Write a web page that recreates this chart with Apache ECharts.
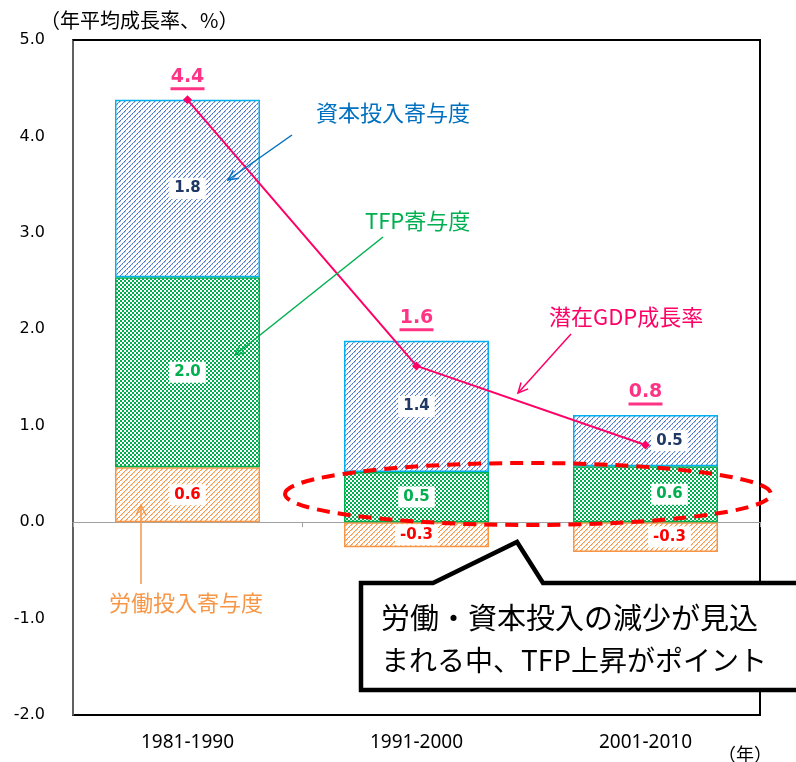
<!DOCTYPE html>
<html>
<head>
<meta charset="utf-8">
<script src="https://cdn.jsdelivr.net/npm/echarts@6/dist/echarts.min.js"></script>
<style>
  html, body { margin: 0; padding: 0; background: #fff; }
  #chart { width: 796px; height: 762px; }
</style>
</head>
<body>
<div id="chart"></div>
<script>
// Periods and growth contributions (annual average, %)
const categories = ['1981-1990', '1991-2000', '2001-2010'];
const labor = [0.57, -0.26, -0.31];     // 労働投入寄与度
const tfp = [1.97, 0.52, 0.58];         // TFP寄与度
const capital = [1.84, 1.36, 0.53];     // 資本投入寄与度
const potential = [4.38, 1.62, 0.80];   // 潜在GDP成長率
const yMin = -2, yMax = 5, yStep = 1;

const JP = '"Noto Sans CJK JP", "Noto Sans", sans-serif';
const NUM = '"DejaVu Sans", sans-serif';

// Plot frame in pixels
const GRID = { left: 73, right: 36, top: 40, bottom: 47 };
const W = 796, H = 762;

// Small repeating fill textures for the stacked segments
function makePattern(size, paint) {
  const c = document.createElement('canvas');
  c.width = c.height = size;
  const g = c.getContext('2d');
  g.fillStyle = '#ffffff';
  g.fillRect(0, 0, size, size);
  for (let y = 0; y < size; y++) {
    for (let x = 0; x < size; x++) {
      const col = paint(x, y);
      if (col) { g.fillStyle = col; g.fillRect(x, y, 1, 1); }
    }
  }
  return { image: c, repeat: 'repeat' };
}
const blueHatch = makePattern(5, (x, y) => {
  const d = (x + y) % 5;
  if (d === 0) return (x % 2 === 0) ? '#4472C4' : '#6f93d4';
  if (d === 1 && x % 2 === 0) return '#b3c7ec';
  return null;
});
const greenDots = makePattern(4, (x, y) => {
  if (((x >> 1) + (y >> 1)) % 2 === 0) return '#00B050';
  return null;
});
const orangeHatch = makePattern(5, (x, y) => {
  const d = (x + y) % 5;
  if (d === 0) return '#F79646';
  if (d === 1 && y % 2 === 0) return '#fbc8a0';
  return null;
});

// Segment labels: the last period is nudged right to clear the line marker
function segData(arr) {
  return arr.map((v, i) => ({ value: v, label: { offset: i === 2 ? [24, 0] : [0, 0] } }));
}
function segLabel(color) {
  return {
    show: true,
    position: 'inside',
    formatter: p => p.value.toFixed(1),
    color: color,
    fontFamily: NUM,
    fontWeight: 'bold',
    fontSize: 15,
    backgroundColor: '#ffffff',
    padding: [3, 5],
    lineHeight: 15
  };
}

// Top of each bar, where the total growth label sits
const barTops = categories.map((_, i) => capital[i] + tfp[i] + Math.max(labor[i], 0));

function arrow(x1, y1, x2, y2, color) {
  const ang = Math.atan2(y2 - y1, x2 - x1);
  const L = 11, a = 0.45;
  const p1 = [x2 - L * Math.cos(ang - a), y2 - L * Math.sin(ang - a)];
  const p2 = [x2 - L * Math.cos(ang + a), y2 - L * Math.sin(ang + a)];
  return [
    { type: 'line', z: 20, shape: { x1, y1, x2, y2 }, style: { stroke: color, lineWidth: 1.5 } },
    { type: 'polyline', z: 20, shape: { points: [p1, [x2, y2], p2] }, style: { stroke: color, lineWidth: 1.5, fill: null } }
  ];
}
function note(text, x, y, color, size) {
  return {
    type: 'text', z: 20, x, y,
    style: { text, fill: color, font: `${size}px ${JP}`, textVerticalAlign: 'middle' }
  };
}

const chart = echarts.init(document.getElementById('chart'), null, { renderer: 'canvas' });

const option = {
  animation: false,
  backgroundColor: '#ffffff',
  grid: {
    left: GRID.left, right: GRID.right, top: GRID.top, bottom: GRID.bottom,
    show: true, borderColor: '#000000', borderWidth: 2
  },
  xAxis: [
    {
      type: 'category',
      data: categories,
      position: 'bottom',
      axisLine: { show: false, onZero: false },
      axisTick: { show: false },
      axisLabel: { color: '#000', fontFamily: '"Noto Sans", sans-serif', fontSize: 19, margin: 18 }
    },
    {
      type: 'category',
      data: categories,
      position: 'bottom',
      axisLine: { show: true, onZero: true, lineStyle: { color: '#a0a0a0', width: 1 } },
      axisTick: { show: true, length: 5, lineStyle: { color: '#a0a0a0' } },
      axisLabel: { show: false }
    }
  ],
  yAxis: {
    type: 'value',
    min: yMin, max: yMax, interval: yStep,
    axisLine: { show: true, onZero: false, lineStyle: { color: '#808080', width: 1.5 } },
    axisTick: { show: false },
    splitLine: { show: false },
    axisLabel: {
      formatter: v => v.toFixed(1),
      color: '#000', fontFamily: NUM, fontSize: 16, margin: 28
    }
  },
  series: [
    {
      name: '労働投入寄与度', type: 'bar', stack: 'growth', barWidth: 145,
      data: segData(labor),
      itemStyle: { color: orangeHatch, borderColor: '#F79646', borderWidth: 1.5 },
      label: segLabel('#FF0000'), z: 2
    },
    {
      name: 'TFP寄与度', type: 'bar', stack: 'growth', barWidth: 145,
      data: segData(tfp),
      itemStyle: { color: greenDots, borderColor: '#00B050', borderWidth: 1.5 },
      label: segLabel('#00B050'), z: 2
    },
    {
      name: '資本投入寄与度', type: 'bar', stack: 'growth', barWidth: 145,
      data: segData(capital),
      itemStyle: { color: blueHatch, borderColor: '#00B0F0', borderWidth: 1.5 },
      label: segLabel('#1F3864'), z: 2
    },
    {
      name: '潜在GDP成長率', type: 'line',
      data: potential,
      symbol: 'diamond', symbolSize: 9,
      itemStyle: { color: '#FF0066' },
      lineStyle: { color: '#FF0066', width: 2 },
      z: 5
    },
    {
      name: '潜在GDP成長率ラベル', type: 'scatter',
      data: barTops,
      symbolSize: 0,
      silent: true,
      z: 6,
      label: {
        show: true,
        position: 'top',
        distance: 9,
        formatter: p => '{t|' + potential[p.dataIndex].toFixed(1) + '}\n{u| }',
        rich: {
          t: { color: '#FF0066', fontFamily: NUM, fontWeight: 'bold', fontSize: 19, lineHeight: 20, align: 'center' },
          u: { backgroundColor: '#FF0066', width: 34, height: 3, lineHeight: 4, fontSize: 1, align: 'center' }
        }
      }
    }
  ],
  graphic: [
    // top edge of the plot frame
    {
      type: 'line', z: 100,
      shape: { x1: GRID.left, y1: GRID.top, x2: W - GRID.right, y2: GRID.top },
      style: { stroke: '#000000', lineWidth: 2 }
    },

    // axis captions
    { type: 'text', x: 40, y: 20, style: { text: '（年平均成長率、%）', fill: '#000', font: `20px ${JP}`, textVerticalAlign: 'middle' } },
    { type: 'text', x: 718, y: 754, style: { text: '（年）', fill: '#000', font: `18px ${JP}`, textVerticalAlign: 'middle' } },

    // series annotations
    note('資本投入寄与度', 316, 113, '#0070C0', 22),
    ...arrow(292, 135, 228, 180, '#0070C0'),
    note('TFP寄与度', 365, 221, '#00B050', 22),
    ...arrow(383, 237, 235, 355, '#00B050'),
    note('潜在GDP成長率', 549, 317, '#FF0066', 22),
    ...arrow(571, 334, 518, 393, '#FF0066'),
    note('労働投入寄与度', 109, 603, '#F79646', 22),
    ...arrow(141, 584, 141, 505, '#F79646'),

    // highlight around the TFP segments
    {
      type: 'ellipse', z: 30,
      shape: { cx: 528, cy: 494, rx: 243, ry: 31 },
      style: { fill: null, stroke: '#FF0000', lineWidth: 4, lineDash: [13, 8] }
    },

    // speech callout
    {
      type: 'polygon', z: 31,
      shape: { points: [[361, 583], [433, 583], [517, 542], [543, 583], [810, 583], [810, 690], [361, 690]] },
      style: { fill: '#ffffff', stroke: '#000000', lineWidth: 4.5, lineJoin: 'miter' }
    },
    {
      type: 'text', z: 32, x: 381, y: 618,
      style: { text: '労働・資本投入の減少が見込', fill: '#000', font: `29px ${JP}`, textVerticalAlign: 'middle' }
    },
    {
      type: 'text', z: 32, x: 381, y: 660,
      style: { text: 'まれる中、TFP上昇がポイント', fill: '#000', font: `28px ${JP}`, textVerticalAlign: 'middle' }
    }
  ]
};

chart.setOption(option);
</script>
</body>
</html>
